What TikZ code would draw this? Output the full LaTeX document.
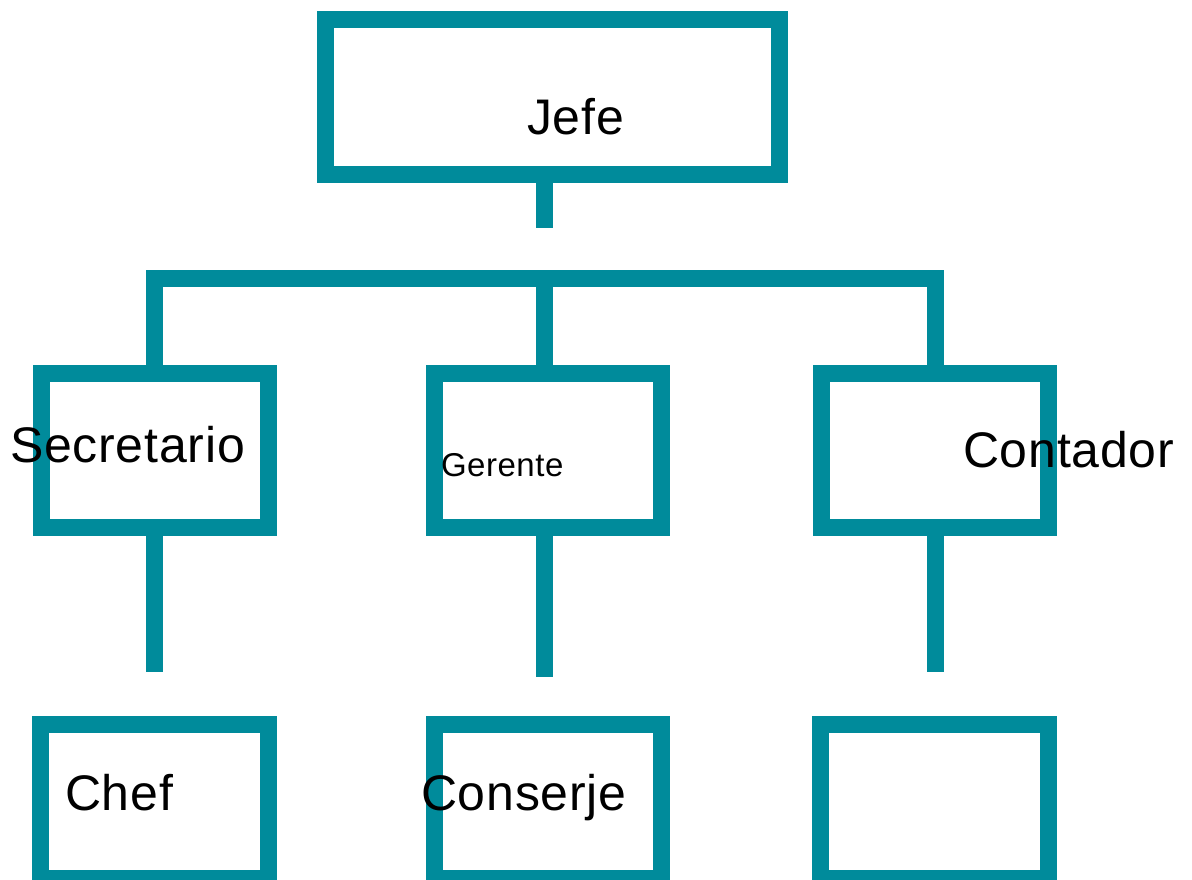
\documentclass[tikz,border=0pt]{standalone}
\usepackage{fontspec}
\setmainfont{Liberation Sans}[LetterSpace=1.6]
\definecolor{teal}{HTML}{008B9B}
\begin{document}
\begin{tikzpicture}[x=1pt,y=-1pt,
  orgbox/.style={draw=teal,line width=17pt,rectangle,inner sep=0pt,outer sep=0pt,
    minimum width=227.5pt,minimum height=154.5pt},
  conn/.style={draw=teal,line width=17pt,line cap=butt,line join=miter},
  lbl/.style={anchor=base west,inner sep=0pt,outer sep=0pt,text=black,font=\fontsize{50}{60}\selectfont},
  slbl/.style={anchor=base west,inner sep=0pt,outer sep=0pt,text=black,font=\fontsize{33}{40}\selectfont}]
\useasboundingbox (0,0) rectangle (1192,879);
\clip (0,0) rectangle (1192,879);
% boxes
\node[orgbox,minimum width=454pt,minimum height=155pt] (jefe) at (552.5,97) {};
\node[orgbox] (sec) at (154.75,450.25) {};
\node[orgbox] (ger) at (548,450.25) {};
\node[orgbox] (con) at (934.75,450.25) {};
\node[orgbox] (chef) at (154.5,801.25) {};
\node[orgbox] (cons) at (548,801.25) {};
\node[orgbox] (vac) at (934.5,801.25) {};
% labels
\node[lbl] (tjefe) at (527,134) {Jefe};
\node[lbl] (tsec) at (10,462) {Secretario};
\node[slbl] (tger) at (441,476) {Gerente};
\node[lbl] (tcon) at (963,467) {Contador};
\node[lbl] (tchef) at (65,810) {Chef};
\node[lbl] (tcons) at (421,810) {Conserje};
% connector ends
\coordinate (jstem) at (544.5,228);
\coordinate (barL) at (154.5,278.5);
\coordinate (barM) at (544.5,278.5);
\coordinate (barR) at (935,278.5);
\coordinate (e1) at (154.5,672);
\coordinate (e2) at (544.5,677);
\coordinate (e3) at (935,672);
% connectors
\draw[conn] (jefe.south -| jstem) -- (jstem);
\draw[conn] (sec.north -| barL) -- (barL) -- (barR) -- (con.north -| barR);
\draw[conn] (barM) -- (ger.north -| barM);
\draw[conn] (sec.south -| e1) -- (e1);
\draw[conn] (ger.south -| e2) -- (e2);
\draw[conn] (con.south -| e3) -- (e3);
\end{tikzpicture}
\end{document}
